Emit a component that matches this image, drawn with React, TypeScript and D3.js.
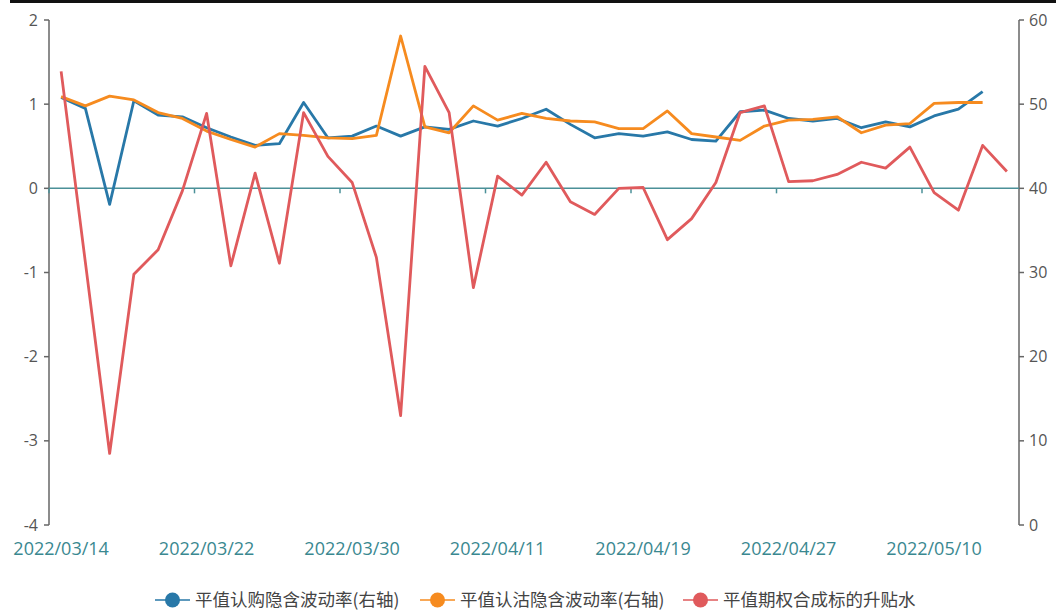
import React from 'react';
import * as d3 from 'd3';

// trading days
const dates = [
  '2022/03/14', '2022/03/15', '2022/03/16', '2022/03/17', '2022/03/18', '2022/03/21', '2022/03/22',
  '2022/03/23', '2022/03/24', '2022/03/25', '2022/03/28', '2022/03/29', '2022/03/30', '2022/03/31',
  '2022/04/01', '2022/04/06', '2022/04/07', '2022/04/08', '2022/04/11', '2022/04/12', '2022/04/13',
  '2022/04/14', '2022/04/15', '2022/04/18', '2022/04/19', '2022/04/20', '2022/04/21', '2022/04/22',
  '2022/04/25', '2022/04/26', '2022/04/27', '2022/04/28', '2022/04/29', '2022/05/05', '2022/05/06',
  '2022/05/09', '2022/05/10', '2022/05/11', '2022/05/12', '2022/05/13',
];

// 平值认购隐含波动率 (right axis)
const callIV = [
  50.8, 49.5, 38.1, 50.4, 48.7, 48.5, 47.2, 46.1, 45.1, 45.3, 50.2, 46.0, 46.2, 47.4, 46.2, 47.3,
  47.0, 48.0, 47.4, 48.3, 49.4, 47.6, 46.0, 46.5, 46.2, 46.7, 45.8, 45.6, 49.1, 49.3, 48.3, 48.0,
  48.3, 47.2, 47.9, 47.3, 48.6, 49.4, 51.5, null,
];

// 平值认沽隐含波动率 (right axis)
const putIV = [
  50.9, 49.8, 50.95, 50.5, 49.0, 48.3, 46.8, 45.8, 44.9, 46.5, 46.3, 46.0, 45.9, 46.3, 58.1, 47.3,
  46.6, 49.8, 48.1, 48.9, 48.3, 48.0, 47.9, 47.1, 47.1, 49.2, 46.5, 46.1, 45.7, 47.4, 48.1, 48.2,
  48.5, 46.6, 47.5, 47.7, 50.1, 50.2, 50.2, null,
];

// 平值期权合成标的升贴水 (left axis)
const basis = [
  1.39, -0.88, -3.15, -1.02, -0.73, -0.03, 0.89, -0.92, 0.18, -0.89, 0.9, 0.38, 0.07, -0.82,
  -2.7, 1.45, 0.9, -1.18, 0.145, -0.08, 0.31, -0.16, -0.31, 0.0, 0.01, -0.61, -0.36, 0.07, 0.9,
  0.98, 0.08, 0.09, 0.165, 0.31, 0.24, 0.49, -0.05, -0.26, 0.51, 0.2,
];

const leftTicks = [2, 1, 0, -1, -2, -3, -4];
const rightTicks = [60, 50, 40, 30, 20, 10, 0];

const series = [
  { name: '平值认购隐含波动率(右轴)', values: callIV, axis: 'right', color: '#2878a8' },
  { name: '平值认沽隐含波动率(右轴)', values: putIV, axis: 'right', color: '#f68b1f' },
  { name: '平值期权合成标的升贴水', values: basis, axis: 'left', color: '#e05a5c' },
];

const W = 1056;
const H = 613;
const margin = { top: 20, right: 37, bottom: 88, left: 49 };
const labelEvery = 6;
const legendX = [155, 420, 683];

export default function App() {
  const innerRight = W - margin.right;
  const innerBottom = H - margin.bottom;

  const x = d3.scaleBand<string>().domain(dates).range([margin.left, innerRight]).padding(0);
  const yL = d3.scaleLinear().domain([-4, 2]).range([innerBottom, margin.top]);
  const yR = d3.scaleLinear().domain([0, 60]).range([innerBottom, margin.top]);
  const cx = (d: string) => (x(d) as number) + x.bandwidth() / 2;

  const makeLine = (axis: string) =>
    d3.line<number | null>()
      .defined((v) => v != null)
      .x((_, i) => cx(dates[i]))
      .y((v) => (axis === 'left' ? yL(v as number) : yR(v as number)));

  const zeroY = yL(0);
  const tickDates = dates.filter((_, i) => i % labelEvery === 0);

  return (
    <svg width={W} height={H} style={{ position: 'absolute', left: 0, top: 0, background: '#fff' }}>
      {/* top border */}
      <rect x={10} y={0} width={W - 10} height={3} fill="#111" />

      {/* left axis */}
      <line x1={margin.left} x2={margin.left} y1={margin.top} y2={innerBottom} stroke="#666" strokeWidth={1.5} />
      {leftTicks.map((t) => (
        <g key={'l' + t}>
          <line x1={margin.left - 5} x2={margin.left} y1={yL(t)} y2={yL(t)} stroke="#666" strokeWidth={1.5} />
          <text x={margin.left - 11} y={yL(t)} dy="0.35em" textAnchor="end"
            style={{ fontFamily: 'Open Sans', fontSize: 16, fill: '#555' }}>{t}</text>
        </g>
      ))}

      {/* right axis */}
      <line x1={innerRight} x2={innerRight} y1={margin.top} y2={innerBottom} stroke="#666" strokeWidth={1.5} />
      {rightTicks.map((t) => (
        <g key={'r' + t}>
          <line x1={innerRight} x2={innerRight + 5} y1={yR(t)} y2={yR(t)} stroke="#666" strokeWidth={1.5} />
          <text x={innerRight + 10} y={yR(t)} dy="0.35em" textAnchor="start"
            style={{ fontFamily: 'Open Sans', fontSize: 16, fill: '#555' }}>{t}</text>
        </g>
      ))}

      {/* category axis on zero line */}
      <line x1={margin.left} x2={innerRight} y1={zeroY} y2={zeroY} stroke="#4b9098" strokeWidth={1.5} />
      {tickDates.map((d) => (
        <line key={'t' + d} x1={x(d)} x2={x(d)} y1={zeroY} y2={zeroY + 5} stroke="#4b9098" strokeWidth={1.5} />
      ))}
      {tickDates.map((d) => (
        <text key={'xl' + d} x={cx(d)} y={innerBottom + 30} textAnchor="middle"
          style={{ fontFamily: 'Open Sans', fontSize: 18, fill: '#3a8890' }}>{d}</text>
      ))}

      {/* lines */}
      {series.map((s) => (
        <path key={s.name} d={makeLine(s.axis)(s.values) || ''} fill="none" stroke={s.color}
          strokeWidth={2.8} strokeLinejoin="round" />
      ))}

      {/* legend */}
      {series.map((s, i) => (
        <g key={'lg' + s.name} transform={`translate(${legendX[i]},600)`}>
          <line x1={0} x2={35} y1={0} y2={0} stroke={s.color} strokeWidth={2} opacity={0.75} />
          <circle cx={17.5} cy={0} r={7.5} fill={s.color} />
          <text x={40} y={0} dy="0.35em"
            style={{ fontFamily: 'Noto Sans CJK SC', fontSize: 17.5, fill: '#444' }}>{s.name}</text>
        </g>
      ))}
    </svg>
  );
}
